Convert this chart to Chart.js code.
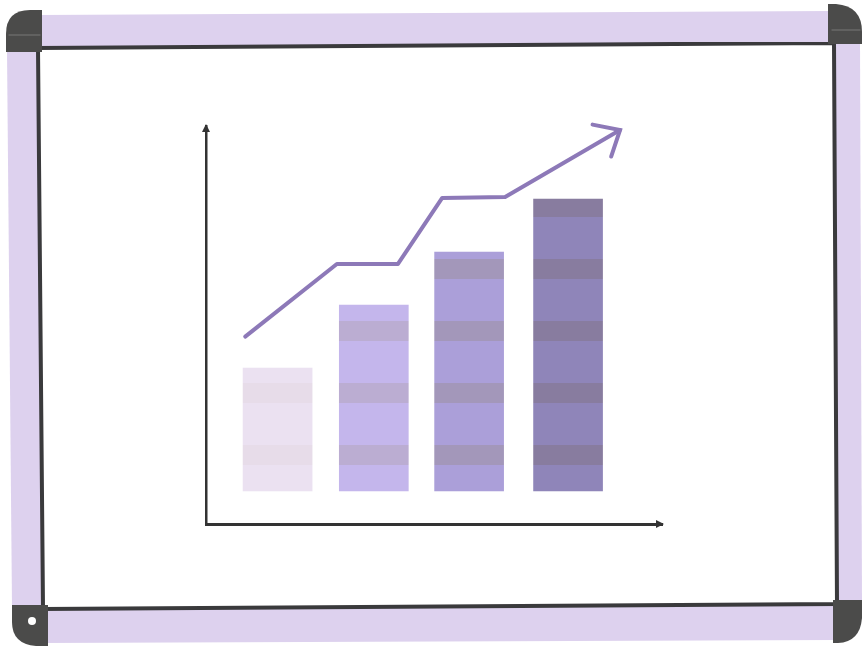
<!DOCTYPE html>
<html>
<head>
<meta charset="utf-8">
<script src="https://cdn.jsdelivr.net/npm/chart.js@4.4.1/dist/chart.umd.min.js"></script>
<style>
  html, body { margin: 0; padding: 0; background: #ffffff; }
  #wrap { width: 862px; height: 647px; position: relative; }
</style>
</head>
<body>
<div id="wrap"><canvas id="c"></canvas></div>
<script>
// ---- data (x in 0-100 units along the horizontal axis, y in 0-12 units) ----
const categories = ['A', 'B', 'C', 'D'];
const barX = [15.7, 36.8, 57.7, 79.4];
const barBase = [1, 1, 1, 1];
const barTop = [4.7, 6.6, 8.2, 9.8];
const trendX = [8.6, 28.7, 42.1, 51.8, 65.6, 90.8];
const trendY = [5.65, 7.84, 7.84, 9.83, 9.86, 11.88];

// ---- styles ----
const barBaseColors = ['#ebe1f1', '#c4b6ec', '#ab9fd9', '#8f85b9'];
const barBandColors = ['#e7dce9', '#bbadd2', '#a397ba', '#887c9f'];

function bandPattern(base, band) {
  const c = document.createElement('canvas');
  c.width = 8; c.height = 62;
  const g = c.getContext('2d');
  g.fillStyle = base; g.fillRect(0, 0, 8, 62);
  g.fillStyle = band; g.fillRect(0, 11, 8, 20);
  return g.createPattern(c, 'repeat');
}
const barFills = barBaseColors.map((b, i) => bandPattern(b, barBandColors[i]));

const barData = categories.map((k, i) => ({ x: barX[i], y: [barBase[i], barTop[i]] }));
const lineData = trendX.map((x, i) => ({ x: x, y: trendY[i] }));

// whiteboard frame (decoration)
const boardPlugin = {
  id: 'board',
  beforeDraw(chart) {
    const ctx = chart.ctx;
    ctx.save();
    ctx.fillStyle = '#ffffff';
    ctx.fillRect(0, 0, chart.width, chart.height);
    const rail = '#ddd1ee';
    const poly = (pts, fill) => {
      ctx.beginPath();
      ctx.moveTo(pts[0][0], pts[0][1]);
      for (let i = 1; i < pts.length; i++) ctx.lineTo(pts[i][0], pts[i][1]);
      ctx.closePath();
      ctx.fillStyle = fill; ctx.fill();
    };
    poly([[38, 15], [832, 11], [832, 44], [38, 48]], rail);
    poly([[7, 50], [37, 50], [42, 608], [12, 608]], rail);
    poly([[835, 42], [860, 42], [862, 602], [838, 602]], rail);
    poly([[42, 610], [836, 604], [836, 640], [42, 643]], rail);

    // dark inner edge
    ctx.strokeStyle = '#3a3a3c';
    ctx.lineWidth = 4;
    ctx.lineCap = 'square';
    ctx.beginPath();
    ctx.moveTo(38, 48); ctx.lineTo(833, 43);
    ctx.moveTo(38, 48); ctx.lineTo(43, 608);
    ctx.moveTo(834, 43); ctx.lineTo(837, 603);
    ctx.moveTo(43, 609); ctx.lineTo(837, 604);
    ctx.stroke();

    // corner caps
    const cap = '#4b4b4a';
    ctx.fillStyle = cap;
    ctx.beginPath();
    ctx.moveTo(42, 10); ctx.lineTo(42, 52); ctx.lineTo(6, 52); ctx.lineTo(6, 34);
    ctx.quadraticCurveTo(6, 10, 30, 10); ctx.closePath(); ctx.fill();
    ctx.beginPath();
    ctx.moveTo(828, 4); ctx.lineTo(836, 4);
    ctx.quadraticCurveTo(862, 6, 862, 32); ctx.lineTo(862, 44); ctx.lineTo(828, 44); ctx.closePath(); ctx.fill();
    ctx.beginPath();
    ctx.moveTo(12, 605); ctx.lineTo(48, 605); ctx.lineTo(48, 646); ctx.lineTo(36, 646);
    ctx.quadraticCurveTo(12, 644, 12, 622); ctx.closePath(); ctx.fill();
    ctx.beginPath();
    ctx.moveTo(833, 600); ctx.lineTo(862, 600); ctx.lineTo(862, 618);
    ctx.quadraticCurveTo(860, 642, 838, 643); ctx.lineTo(833, 643); ctx.closePath(); ctx.fill();
    ctx.strokeStyle = 'rgba(200,200,200,0.35)'; ctx.lineWidth = 1;
    ctx.beginPath(); ctx.moveTo(9, 35); ctx.lineTo(40, 35); ctx.moveTo(832, 30); ctx.lineTo(860, 30); ctx.stroke();
    ctx.fillStyle = '#ffffff';
    ctx.beginPath(); ctx.arc(32, 621, 4, 0, Math.PI * 2); ctx.fill();
    ctx.restore();
  },
  afterDraw(chart) {
    const ctx = chart.ctx;
    const xs = chart.scales.x, ys = chart.scales.y;
    ctx.save();
    ctx.fillStyle = '#333333';
    const x0 = xs.left, yTop = ys.top;
    ctx.beginPath(); ctx.moveTo(x0 - 4, yTop + 6); ctx.lineTo(x0, yTop - 2); ctx.lineTo(x0 + 4, yTop + 6); ctx.closePath(); ctx.fill();
    const xr = xs.right, yb = ys.bottom;
    ctx.beginPath(); ctx.moveTo(xr - 6, yb - 4); ctx.lineTo(xr + 2, yb); ctx.lineTo(xr - 6, yb + 4); ctx.closePath(); ctx.fill();
    const meta = chart.getDatasetMeta(1);
    const pts = meta.data;
    const a = pts[pts.length - 2], b = pts[pts.length - 1];
    const ang = Math.atan2(b.y - a.y, b.x - a.x);
    const L = 28, spread = 0.72;
    ctx.strokeStyle = '#8d79b8'; ctx.lineWidth = 4; ctx.lineCap = 'round';
    ctx.beginPath();
    ctx.moveTo(b.x + L * Math.cos(ang + Math.PI - spread), b.y + L * Math.sin(ang + Math.PI - spread));
    ctx.lineTo(b.x, b.y);
    ctx.lineTo(b.x + L * Math.cos(ang + Math.PI + spread), b.y + L * Math.sin(ang + Math.PI + spread));
    ctx.stroke();
    ctx.restore();
  }
};

new Chart(document.getElementById('c'), {
  data: {
    datasets: [
      {
        type: 'bar',
        label: 'bars',
        data: barData,
        backgroundColor: barFills,
        borderWidth: 0,
        barThickness: 69,
        order: 2
      },
      {
        type: 'line',
        label: 'trend',
        data: lineData,
        borderColor: '#8d79b8',
        borderWidth: 4,
        pointRadius: 0,
        tension: 0,
        fill: false,
        borderCapStyle: 'round',
        borderJoinStyle: 'round',
        order: 1
      }
    ]
  },
  options: {
    responsive: true,
    maintainAspectRatio: false,
    animation: false,
    layout: { padding: { left: 206, right: 200, top: 126, bottom: 123 } },
    plugins: { legend: { display: false }, tooltip: { enabled: false } },
    scales: {
      x: {
        type: 'linear', min: 0, max: 100, offset: false,
        grid: { display: false, drawTicks: false, offset: false },
        ticks: { display: false },
        border: { display: true, color: '#333333', width: 3 }
      },
      y: {
        type: 'linear', min: 0, max: 12,
        grid: { display: false, drawTicks: false },
        ticks: { display: false },
        border: { display: true, color: '#333333', width: 2.5 }
      }
    }
  },
  plugins: [boardPlugin]
});
</script>
</body>
</html>
